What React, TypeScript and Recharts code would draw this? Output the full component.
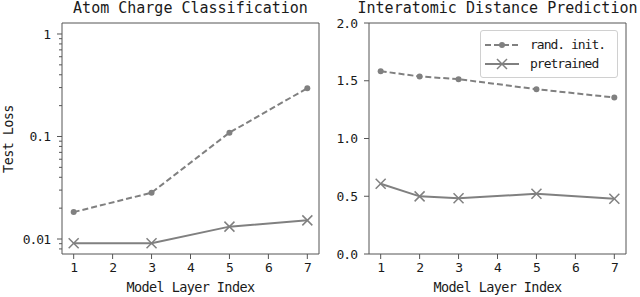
import React from 'react'
import { LineChart, Line, XAxis, YAxis, Legend, ReferenceLine } from 'recharts'

// Atom charge classification (log scale)
const chargeLayers = [1, 3, 5, 7]
const chargeRand = [0.0183, 0.0283, 0.109, 0.296]
const chargePre = [0.0091, 0.0091, 0.0132, 0.0152]

// Interatomic distance prediction
const distLayers = [1, 2, 3, 5, 7]
const distRand = [1.583, 1.537, 1.514, 1.427, 1.355]
const distPre = [0.608, 0.499, 0.482, 0.522, 0.478]

const layerTicks = [1, 2, 3, 4, 5, 6, 7]
const lossMajorTicks = [0.01, 0.1, 1]
const lossTicks = [
  0.008, 0.009, 0.01, 0.02, 0.03, 0.04, 0.05, 0.06, 0.07, 0.08, 0.09,
  0.1, 0.2, 0.3, 0.4, 0.5, 0.6, 0.7, 0.8, 0.9, 1,
]
const distTicks = [0, 0.5, 1, 1.5, 2]
const seriesNames = ['rand. init.', 'pretrained']

const layerDomain = [0.7, 7.3]
const lossDomain = [0.00714, 1.28]
const distDomain = [0, 2]

const GRAY = '#808080'
const SPINE = '#555555'
const TEXT = '#1a1a1a'
const FONT = '"DejaVu Sans Mono", monospace'

const chargeData = chargeLayers.map((layer, i) => ({
  layer,
  rand: chargeRand[i],
  pre: chargePre[i],
}))

const distData = distLayers.map((layer, i) => ({
  layer,
  rand: distRand[i],
  pre: distPre[i],
}))

const RoundDot = (props: any) => {
  const { cx, cy, index } = props
  if (cx == null || cy == null) return null
  return <circle key={index} cx={cx} cy={cy} r={3} fill={GRAY} />
}

const CrossDot = (props: any) => {
  const { cx, cy, index } = props
  if (cx == null || cy == null) return null
  const s = 5
  return (
    <g key={index} stroke={GRAY} strokeWidth={1.5}>
      <line x1={cx - s} y1={cy - s} x2={cx + s} y2={cy + s} />
      <line x1={cx - s} y1={cy + s} x2={cx + s} y2={cy - s} />
    </g>
  )
}

// y tick with major/minor tick marks, label only on majors
const makeYTick =
  (axisX: number, isMajor: (v: number) => boolean, fmt: (v: number) => string) =>
  (props: any) => {
    const { y, payload } = props
    const major = isMajor(payload.value)
    return (
      <g>
        <line x1={axisX - (major ? 5 : 3)} y1={y} x2={axisX} y2={y} stroke={SPINE} strokeWidth={1} />
        {major && (
          <text
            x={axisX - 12}
            y={y}
            dy="0.35em"
            textAnchor="end"
            fontSize={13}
            letterSpacing={-1}
            fill={TEXT}
            fontFamily={FONT}
          >
            {fmt(payload.value)}
          </text>
        )}
      </g>
    )
  }

const LogTick = makeYTick(
  62,
  (v) => lossMajorTicks.some((m) => Math.abs(m - v) < 1e-9),
  (v) => String(v)
)
const LinTick = makeYTick(49, () => true, (v) => v.toFixed(1))

const xTickStyle = { fontSize: 13, fill: TEXT, fontFamily: FONT, letterSpacing: -1 }
const axisLabelStyle = { fontSize: 13.5, fill: TEXT, fontFamily: FONT, letterSpacing: -0.6 }

const LegendBox = () => (
  <div
    style={{
      border: '1px solid #d0d0d0',
      borderRadius: 3,
      background: 'rgba(255,255,255,0.85)',
      padding: '4px 0 4px 3px',
      fontFamily: FONT,
      fontSize: 13,
      letterSpacing: -1,
      color: TEXT,
    }}
  >
    {seriesNames.map((name, i) => (
      <div key={name} style={{ display: 'flex', alignItems: 'center', height: 19 }}>
        <svg width={36} height={12} style={{ marginRight: 10 }}>
          <line
            x1={1}
            y1={6}
            x2={35}
            y2={6}
            stroke={GRAY}
            strokeWidth={2}
            strokeDasharray={i === 0 ? '6 3' : undefined}
          />
          {i === 0 ? (
            <circle cx={18} cy={6} r={3} fill={GRAY} />
          ) : (
            <g stroke={GRAY} strokeWidth={1.5}>
              <line x1={13} y1={1} x2={23} y2={11} />
              <line x1={13} y1={11} x2={23} y2={1} />
            </g>
          )}
        </svg>
        <span>{name}</span>
      </div>
    ))}
  </div>
)

const App = () => {
  return (
    <div style={{ position: 'absolute', left: 0, top: 0, width: 640, height: 297, background: '#fff' }}>
      {/* Left panel */}
      <div style={{ position: 'absolute', left: 0, top: 0 }}>
        <LineChart width={320} height={297} data={chargeData} margin={{ top: 23, right: 1, bottom: 0, left: 0 }}>
          <XAxis
            dataKey="layer"
            type="number"
            domain={layerDomain}
            ticks={layerTicks}
            allowDataOverflow
            height={43}
            stroke={SPINE}
            tickSize={5}
            tickMargin={4}
            tick={xTickStyle}
            label={{ value: 'Model Layer Index', position: 'insideBottom', offset: 5, style: axisLabelStyle }}
          />
          <YAxis
            scale="log"
            type="number"
            domain={lossDomain}
            ticks={lossTicks}
            allowDataOverflow
            interval={0}
            width={62}
            stroke={SPINE}
            tickLine={false}
            tick={<LogTick />}
          />
          <ReferenceLine x={layerDomain[1]} stroke={SPINE} strokeWidth={1} />
          <ReferenceLine y={lossDomain[1]} stroke={SPINE} strokeWidth={1} />
          <Line
            type="linear"
            dataKey="rand"
            name={seriesNames[0]}
            stroke={GRAY}
            strokeWidth={2}
            strokeDasharray="6 3"
            dot={<RoundDot />}
            isAnimationActive={false}
          />
          <Line
            type="linear"
            dataKey="pre"
            name={seriesNames[1]}
            stroke={GRAY}
            strokeWidth={2}
            dot={<CrossDot />}
            isAnimationActive={false}
          />
          <text x={190.5} y={13} textAnchor="middle" fontSize={15} fontFamily={FONT} fill={TEXT}>
            Atom Charge Classification
          </text>
          <text
            x={13}
            y={139}
            transform="rotate(-90 13 139)"
            textAnchor="middle"
            fontSize={13.5}
            letterSpacing={-0.6}
            fontFamily={FONT}
            fill={TEXT}
          >
            Test Loss
          </text>
        </LineChart>
      </div>

      {/* Right panel */}
      <div style={{ position: 'absolute', left: 320, top: 0 }}>
        <LineChart width={320} height={297} data={distData} margin={{ top: 23, right: 14, bottom: 0, left: 0 }}>
          <XAxis
            dataKey="layer"
            type="number"
            domain={layerDomain}
            ticks={layerTicks}
            allowDataOverflow
            height={43}
            stroke={SPINE}
            tickSize={5}
            tickMargin={4}
            tick={xTickStyle}
            label={{ value: 'Model Layer Index', position: 'insideBottom', offset: 5, style: axisLabelStyle }}
          />
          <YAxis
            type="number"
            domain={distDomain}
            ticks={distTicks}
            allowDataOverflow
            interval={0}
            width={49}
            stroke={SPINE}
            tickLine={false}
            tick={<LinTick />}
          />
          <ReferenceLine x={layerDomain[1]} stroke={SPINE} strokeWidth={1} />
          <ReferenceLine y={distDomain[1]} stroke={SPINE} strokeWidth={1} />
          <Line
            type="linear"
            dataKey="rand"
            name={seriesNames[0]}
            stroke={GRAY}
            strokeWidth={2}
            strokeDasharray="6 3"
            dot={<RoundDot />}
            isAnimationActive={false}
          />
          <Line
            type="linear"
            dataKey="pre"
            name={seriesNames[1]}
            stroke={GRAY}
            strokeWidth={2}
            dot={<CrossDot />}
            isAnimationActive={false}
          />
          <Legend
            layout="vertical"
            align="center"
            verticalAlign="middle"
            content={<LegendBox />}
            wrapperStyle={{ left: 160, top: 30, width: 138 }}
          />
          <text x={177.5} y={13} textAnchor="middle" fontSize={15} fontFamily={FONT} fill={TEXT}>
            Interatomic Distance Prediction
          </text>
        </LineChart>
      </div>
    </div>
  )
}

export default App
